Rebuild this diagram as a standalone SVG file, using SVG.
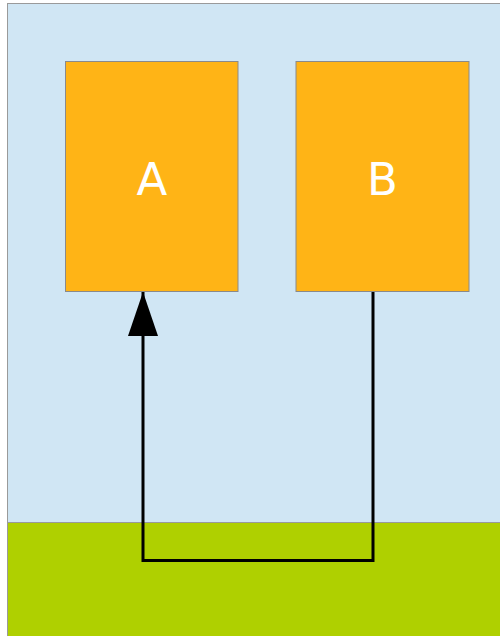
<svg xmlns="http://www.w3.org/2000/svg" width="500" height="636" viewBox="0 0 500 636">
<style>
.bg{fill:#d0e6f4;stroke:#9a9a9a;stroke-width:1}
.ground{fill:#afd000;stroke:#9a9a9a;stroke-width:1}
.node rect{fill:#ffb416;stroke:#8a8a8a;stroke-width:1}
.node text{font-family:"DejaVu Sans",sans-serif;font-size:45px;fill:#ffffff;text-anchor:middle}
.conn{fill:none;stroke:#000000;stroke-width:3}
</style>
<defs>
<marker id="arr" markerUnits="userSpaceOnUse" markerWidth="44" markerHeight="30" refX="44" refY="15" orient="auto" viewBox="0 0 44 30">
<polygon points="0,0 44,15 0,30" fill="#000000"/>
</marker>
</defs>
<rect class="bg" x="7.5" y="3.5" width="500" height="640"/>
<rect class="ground" x="7.5" y="522.5" width="500" height="120"/>
<g id="nodeA" class="node">
<rect x="65.5" y="61.5" width="172.5" height="230"/>
<text x="152" y="195">A</text>
</g>
<g id="nodeB" class="node">
<rect x="296" y="61.5" width="173" height="230"/>
<text x="382.5" y="195">B</text>
</g>
<g id="connectors">
<path class="conn" d="M373,292 V560.5 H143 V292" marker-end="url(#arr)"/>
</g>
</svg>
